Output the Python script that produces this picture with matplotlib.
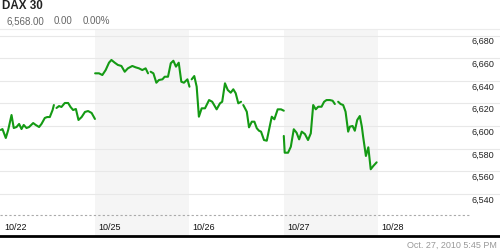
import numpy as np
import matplotlib
matplotlib.use("Agg")
import matplotlib.pyplot as plt
import matplotlib.transforms as mtransforms

# ---------------- data ----------------
title = "DAX 30"
last_price = "6,568.00"
change = "0.00"
change_pct = "0.00%"
timestamp = "Oct. 27, 2010 5:45 PM"
day_labels = ["10/22", "10/25", "10/26", "10/27", "10/28"]
y_ticks = [6680, 6660, 6640, 6620, 6600, 6580, 6560, 6540]
session_minutes = 510  # 09:00 - 17:30

# minutes since open / index level (nan = missing)
d0_min = [0, 9, 27, 40, 58, 70, 85, 99, 112, 124, 139, 153, 175, 189, 207, 220, 238, 251,
          265, 280, 287, 294, 301, 315, 328, 346, 364, 377, 391, 406, 420, 437, 455, 472, 491, 509]
d0_val = [6596.6, 6597.4, 6589.5, 6596.6, 6609.8, 6598.3, 6599.2, 6601.9, 6597.4, 6601.0,
          6598.3, 6599.2, 6602.7, 6601.0, 6599.2, 6601.9, 6607.2, 6608.0, 6608.0, 6614.2,
          6618.6, np.nan, 6616.0, 6617.7, 6616.9, 6620.4, 6620.4, 6616.9, 6614.2, 6615.1,
          6605.4, 6608.0, 6612.5, 6613.3, 6611.6, 6606.3]

d1_min = [0, 21, 39, 57, 75, 88, 106, 123, 142, 160, 177, 201, 219, 237, 255, 273, 286, 293,
          300, 315, 331, 345, 364, 376, 394, 409, 423, 437, 452, 466, 480, 499, 510]
d1_val = [6646.6, 6646.6, 6645.1, 6649.5, 6656.0, 6658.4, 6656.0, 6654.0, 6653.1, 6648.0,
          6651.0, 6653.1, 6651.9, 6651.0, 6649.5, 6651.0, 6646.6, np.nan, 6648.0, 6646.6,
          6638.3, 6640.7, 6641.3, 6643.6, 6643.6, 6655.5, 6657.7, 6652.5, 6656.0, 6639.2,
          6638.3, 6641.3, 6634.8]

d2_min = [12, 26, 39, 51, 66, 84, 106, 123, 147, 165, 177, 192, 207, 223, 237, 250, 264, 279,
          285, 291, 310, 322, 337, 351, 364, 376, 387, 403, 418, 430, 445, 459, 477, 495, 510]
d2_val = [6641.3, 6644.2, 6634.8, 6608.3, 6615.7, 6615.7, 6623.0, 6621.5, 6614.8, 6620.1,
          6621.5, 6637.8, 6631.9, 6629.5, 6632.5, 6629.0, 6620.1, 6621.5, np.nan, 6618.6,
          6612.7, 6598.9, 6603.9, 6603.9, 6598.1, 6595.9, 6595.1, 6587.7, 6587.1, 6596.6,
          6608.3, 6606.0, 6614.8, 6614.8, 6613.6]

d3_min = [0, 5, 23, 38, 54, 69, 83, 97, 114, 131, 146, 159, 173, 186, 204, 218, 231, 249, 264,
          276, 285, 294, 307, 321, 334, 348, 357, 372, 384, 397, 411, 422, 429, 444, 457, 470,
          484, 502]
d3_val = [6591.3, 6576.5, 6576.5, 6581.8, 6597.2, 6594.2, 6588.3, 6595.1, 6593.0, 6587.7,
          6593.6, 6618.6, 6614.8, 6617.1, 6617.1, 6621.5, 6623.0, 6623.0, 6622.4, 6619.5,
          np.nan, 6621.5, 6619.5, 6618.6, 6612.7, 6595.1, 6599.5, 6600.1, 6595.9, 6605.4,
          6608.9, 6599.5, 6590.6, 6573.6, 6581.3, 6561.9, 6564.8, 6568.0]

days_min = [d0_min, d1_min, d2_min, d3_min]
days_val = [d0_val, d1_val, d2_val, d3_val]

# ---------------- layout ----------------
W, H = 500, 250
PX_PER_DAY = 94.33
X0_PX = 0.8
GRID_TOP_PX = 35.5        # pixel row of the top grid value
PX_PER_UNIT = 1.1325
TOP_VAL = y_ticks[0]

fig = plt.figure(figsize=(W / 100, H / 100), dpi=100)
fig.patch.set_facecolor("white")
ax = fig.add_axes([0, 0, 1, 1])
ax.set_axis_off()
ax.set_xlim(-X0_PX / PX_PER_DAY, (W - X0_PX) / PX_PER_DAY)
ax.set_ylim(TOP_VAL - (H - GRID_TOP_PX) / PX_PER_UNIT, TOP_VAL + GRID_TOP_PX / PX_PER_UNIT)

def fy(px):  # figure fraction from pixel row
    return 1 - px / H

def fx(px):
    return px / W

FONT = "Liberation Sans"

# shaded alternate day bands
for d in range(len(day_labels)):
    if d % 2 == 1:
        ax.axvspan(d, d + 1, ymin=fy(236), ymax=fy(29.5), color="#f5f5f5", lw=0, zorder=0)

# header separator
ax.axhline(TOP_VAL + (GRID_TOP_PX - 29) / PX_PER_UNIT, color="#ececec", lw=0.8, zorder=1)

# grid lines and labels
for v in y_ticks:
    ax.axhline(v, color="#e8e8e8", lw=0.8, zorder=1)
    ypx = GRID_TOP_PX + (TOP_VAL - v) * PX_PER_UNIT
    fig.text(fx(494.5), fy(ypx + 6.3), f"{v:,}", ha="right", va="center",
             fontsize=6.5, family=FONT, color="#222222")

# dashed baseline
ax.plot([ax.get_xlim()[0], (470 - X0_PX) / PX_PER_DAY],
        [TOP_VAL - (215 - GRID_TOP_PX) / PX_PER_UNIT] * 2,
        color="#aaaaaa", lw=0.8, ls=(0, (2, 2)), zorder=1)

# bottom black axis line
fig.add_artist(plt.Line2D([0, 1], [fy(236), fy(236)], color="black", lw=2.0))

# price line
for d, (mins, vals) in enumerate(zip(days_min, days_val)):
    x = d + np.array(mins, dtype=float) / session_minutes
    ax.plot(x, np.array(vals, dtype=float), color="#149a14", lw=1.5,
            solid_joinstyle="round", solid_capstyle="round", zorder=3)

# day labels
trans = mtransforms.blended_transform_factory(ax.transData, fig.transFigure)
for d, lab in enumerate(day_labels):
    ax.text(d + 3.2 / PX_PER_DAY, fy(227.3), lab, transform=trans, ha="left", va="center",
            fontsize=6.5, family=FONT, color="#111111")

# header
fig.text(fx(1.5), fy(6), title, ha="left", va="center", fontsize=8.4,
         fontweight="bold", family=FONT, color="#222222")
fig.text(fx(6.7), fy(21.5), last_price, ha="left", va="center", fontsize=7,
         family=FONT, color="#666666")
fig.text(fx(53.3), fy(21.5), change, ha="left", va="center", fontsize=7,
         family=FONT, color="#666666")
fig.text(fx(82.7), fy(21.5), change_pct, ha="left", va="center", fontsize=7,
         family=FONT, color="#666666")

# footer
fig.text(fx(497), fy(245), timestamp, ha="right", va="center", fontsize=6.5,
         family=FONT, color="#999999")

fig.savefig("out.png", dpi=100, facecolor="white")
